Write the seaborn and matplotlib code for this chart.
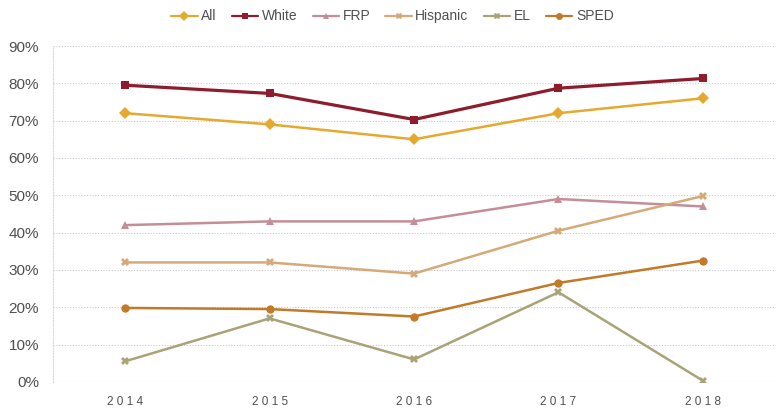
import pandas as pd
import matplotlib.pyplot as plt
import seaborn as sns
from matplotlib.ticker import PercentFormatter

years = [2014, 2015, 2016, 2017, 2018]
groups = ["All", "White", "FRP", "Hispanic", "EL", "SPED"]
all_vals = [72, 69, 65, 72, 76]
white = [79.5, 77.3, 70.3, 78.7, 81.3]
frp = [42, 43, 43, 49, 47]
hispanic = [32, 32, 29, 40.5, 49.8]
el = [5.5, 17, 6, 24, 0.3]
sped = [19.8, 19.5, 17.5, 26.5, 32.5]

colors = ["#E6A930", "#8E1C2C", "#C48E98", "#D6AA78", "#A9A377", "#C07A2A"]
markers = ["D", "s", "^", "X", "X", "o"]

rows = []
for g, vals in zip(groups, [all_vals, white, frp, hispanic, el, sped]):
    for y, v in zip(years, vals):
        rows.append({"Year": y, "Group": g, "Value": v})
df = pd.DataFrame(rows)

sns.set_style("white")
plt.rcParams['font.family'] = ['Liberation Sans', 'DejaVu Sans']

fig = plt.figure(figsize=(7.79, 4.11), dpi=100)
ax = fig.add_axes([0.068, 0.071, 0.927, 0.817])

sns.lineplot(data=df, x="Year", y="Value", hue="Group", style="Group",
             hue_order=groups, style_order=groups,
             palette=dict(zip(groups, colors)),
             markers=dict(zip(groups, markers)), dashes=False,
             linewidth=1.8, markersize=6, markeredgewidth=0, ax=ax)
# white line is a bit heavier in the original
ax.lines[1].set_linewidth(2.3)

ax.set_xlim(2013.5, 2018.5)
ax.set_ylim(0, 90)
ax.set_yticks(range(0, 91, 10))
ax.set_xticks(years)
ax.set_xticklabels([" ".join(str(y)) for y in years])
ax.yaxis.set_major_formatter(PercentFormatter(decimals=0))
ax.grid(axis="y", color="#C8C8D2", linestyle=(0, (1, 1.5)), linewidth=0.8)
for s in ["top", "right", "bottom"]:
    ax.spines[s].set_visible(False)
ax.spines["left"].set_color("#D8D8DE")
ax.spines["left"].set_linestyle((0, (1, 1.5)))
ax.tick_params(axis="y", labelsize=11, labelcolor="#505050", length=0, pad=10)
ax.tick_params(axis="x", labelsize=8.5, labelcolor="#505050", length=0, pad=10)
ax.set_xlabel("")
ax.set_ylabel("")

handles, labels = ax.get_legend_handles_labels()
for h in handles:
    h.set_markersize(5)
    h.set_linewidth(1.6)
ax.legend(handles, labels, loc="lower center", bbox_to_anchor=(0.47, 1.03),
          ncol=6, frameon=False, fontsize=10, handlelength=1.9,
          columnspacing=1.1, handletextpad=0.25, labelcolor="#505050")

plt.savefig("out.png", dpi=100)
